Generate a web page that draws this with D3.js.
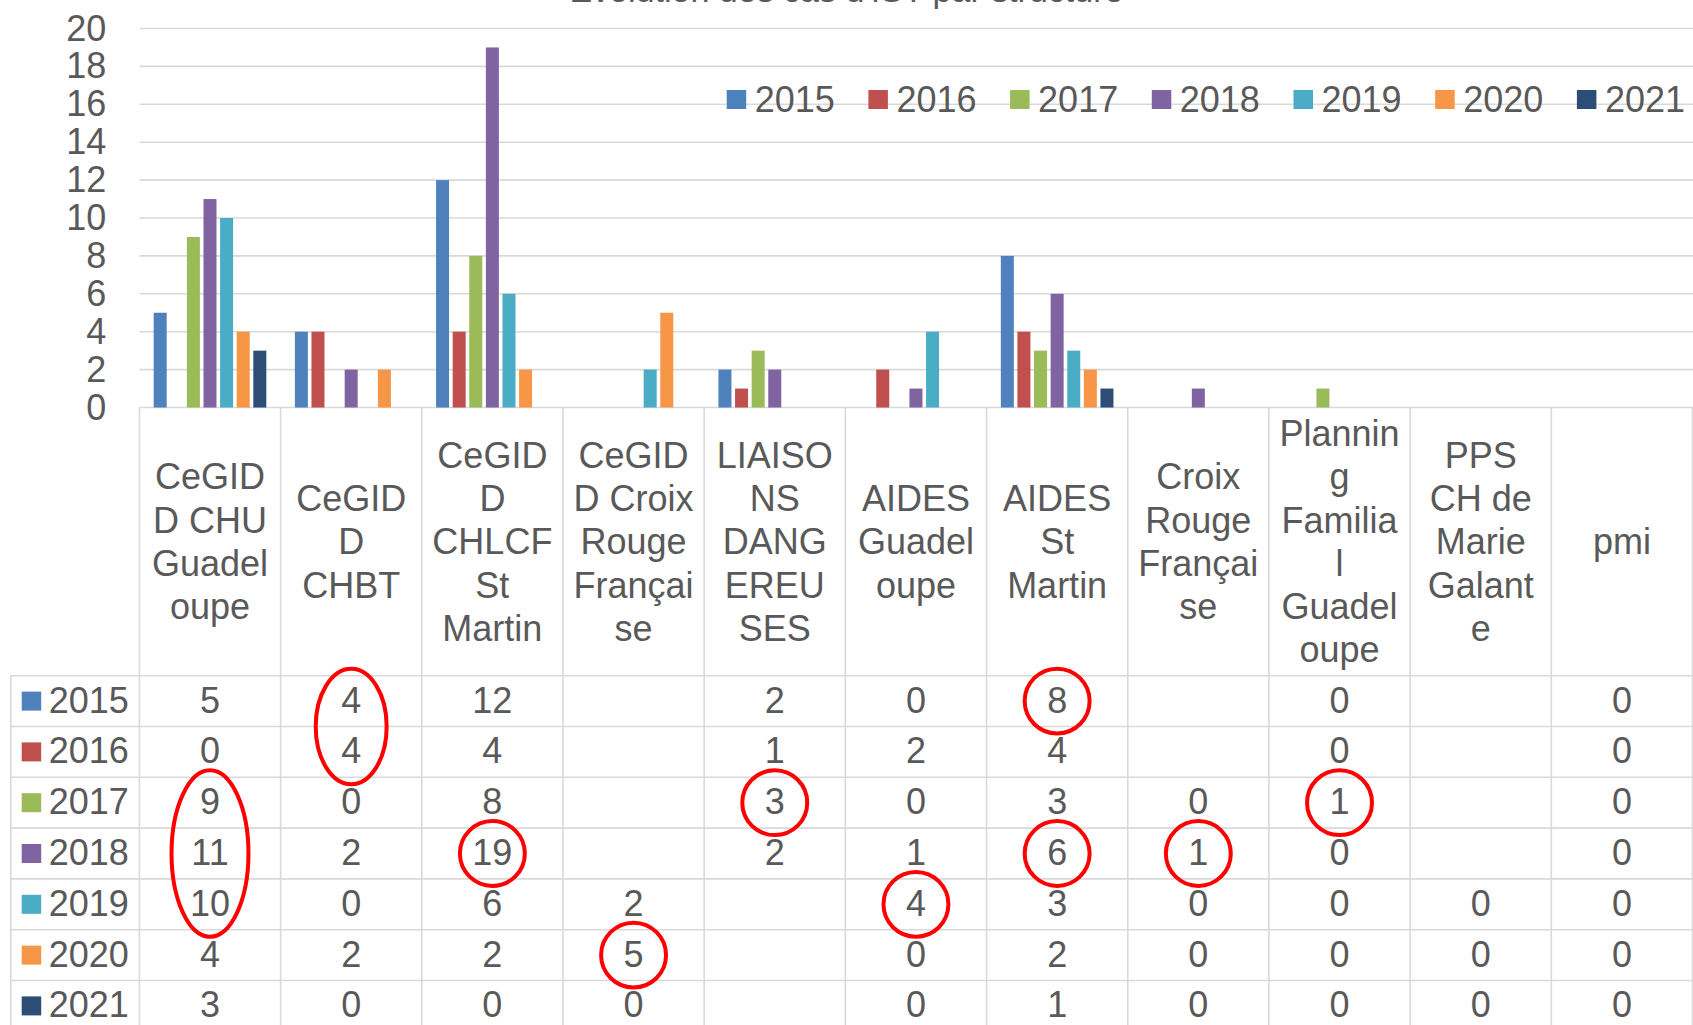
<!DOCTYPE html>
<html>
<head>
<meta charset="utf-8">
<script src="https://cdn.jsdelivr.net/npm/d3@7"></script>
<style>
  body { margin: 0; background: #fff; }
  svg { display: block; font-family: "Liberation Sans", Arial, sans-serif; }
</style>
</head>
<body>
<svg width="1693" height="1025"></svg>
<script>
// values (null = empty cell)
var years = ["2015", "2016", "2017", "2018", "2019", "2020", "2021"]
var categories = ["CeGIDD CHU Guadeloupe", "CeGIDD CHBT", "CeGIDD CHLCF St Martin",
    "CeGIDD Croix Rouge Française", "LIAISONS DANGEREUSES", "AIDES Guadeloupe",
    "AIDES St Martin", "Croix Rouge Française", "Planning Familial Guadeloupe",
    "PPS CH de Marie Galante", "pmi"]
// category labels as they wrap in the header cells
var categoryLines = [
    ["CeGID", "D CHU", "Guadel", "oupe"],
    ["CeGID", "D", "CHBT"],
    ["CeGID", "D", "CHLCF", "St", "Martin"],
    ["CeGID", "D Croix", "Rouge", "Françai", "se"],
    ["LIAISO", "NS", "DANG", "EREU", "SES"],
    ["AIDES", "Guadel", "oupe"],
    ["AIDES", "St", "Martin"],
    ["Croix", "Rouge", "Françai", "se"],
    ["Plannin", "g", "Familia", "l", "Guadel", "oupe"],
    ["PPS", "CH de", "Marie", "Galant", "e"],
    ["pmi"]
]
var v2015 = [5, 4, 12, null, 2, 0, 8, null, 0, null, 0]
var v2016 = [0, 4, 4, null, 1, 2, 4, null, 0, null, 0]
var v2017 = [9, 0, 8, null, 3, 0, 3, 0, 1, null, 0]
var v2018 = [11, 2, 19, null, 2, 1, 6, 1, 0, null, 0]
var v2019 = [10, 0, 6, 2, null, 4, 3, 0, 0, 0, 0]
var v2020 = [4, 2, 2, 5, null, 0, 2, 0, 0, 0, 0]
var v2021 = [3, 0, 0, 0, null, 0, 1, 0, 0, 0, 0]
var yTicks = [0, 2, 4, 6, 8, 10, 12, 14, 16, 18, 20]
var colors = ["#4F81BD", "#C0504D", "#9BBB59", "#8064A2", "#4BACC6", "#F79646", "#2C4D75"]
var title = "Evolution des cas d'IST par structure"

// hand drawn red rings on the table: category, first year, last year
var rings = [
    ["CeGIDD CHBT", "2015", "2016"],
    ["CeGIDD CHU Guadeloupe", "2017", "2019"],
    ["CeGIDD CHLCF St Martin", "2018", "2018"],
    ["LIAISONS DANGEREUSES", "2017", "2017"],
    ["CeGIDD Croix Rouge Française", "2020", "2020"],
    ["AIDES St Martin", "2015", "2015"],
    ["AIDES St Martin", "2018", "2018"],
    ["Croix Rouge Française", "2018", "2018"],
    ["Planning Familial Guadeloupe", "2017", "2017"],
    ["AIDES Guadeloupe", "2019", "2019"]
]

var series = [v2015, v2016, v2017, v2018, v2019, v2020, v2021]

function draw_chart() {
    var svg = d3.select("svg"),
        W = +svg.attr("width"),
        textColor = "#595959",
        gridColor = "#d9d9d9",
        fontSize = 36,
        plotLeft = 139.4,
        tableLeft = 10.8,
        headerTop = 407.5,
        rowsTop = 675.7,
        rowH = 50.8

    var x0 = d3.scaleBand().domain(categories).range([plotLeft, W - 0.5])
    var x1 = d3.scaleBand().domain(years).range([0, x0.bandwidth()])
        .paddingInner(0.217).paddingOuter(0.86)
    var y = d3.scaleLinear().domain([0, 20]).range([headerTop, 28.5])
    var row = d3.scaleBand().domain(years).range([rowsTop, rowsTop + rowH * years.length])
    var color = d3.scaleOrdinal().domain(years).range(colors)

    // title, cut off by the top edge like in the original
    svg.append("text")
        .attr("x", W / 2)
        .attr("y", 2)
        .attr("text-anchor", "middle")
        .attr("fill", textColor)
        .style("font-size", "34px")
        .text(title)

    // grid + value axis
    var yAxis = d3.axisLeft(y).tickValues(yTicks).tickSize(0).tickPadding(33)
    var ga = svg.append("g").attr("transform", "translate(" + plotLeft + ",0)").call(yAxis)
    ga.select(".domain").remove()
    ga.selectAll("text").attr("fill", textColor).style("font-size", fontSize + "px")
        .style("font-family", "Liberation Sans, Arial, sans-serif")

    svg.append("g").selectAll("line")
        .data(yTicks)
        .enter().append("line")
        .attr("x1", plotLeft).attr("x2", W)
        .attr("y1", function (d) { return y(d) }).attr("y2", function (d) { return y(d) })
        .attr("stroke", gridColor).attr("stroke-width", 1.6)

    // bars
    var groups = svg.append("g").selectAll("g")
        .data(categories)
        .enter().append("g")
        .attr("transform", function (c) { return "translate(" + x0(c) + ",0)" })
    groups.selectAll("rect")
        .data(function (c, i) {
            return years.map(function (yr, j) { return { year: yr, value: series[j][i] } })
                .filter(function (d) { return d.value != null && d.value > 0 })
        })
        .enter().append("rect")
        .attr("x", function (d) { return x1(d.year) })
        .attr("width", x1.bandwidth())
        .attr("y", function (d) { return y(d.value) })
        .attr("height", function (d) { return y(0) - y(d.value) })
        .attr("fill", function (d) { return color(d.year) })

    // top legend
    var legend = svg.append("g").attr("transform", "translate(726.7,0)")
    var li = legend.selectAll("g")
        .data(years)
        .enter().append("g")
        .attr("transform", function (d, i) { return "translate(" + (i * 141.7) + ",0)" })
    li.append("rect").attr("x", 0).attr("y", 90).attr("width", 19.5).attr("height", 19)
        .attr("fill", function (d) { return color(d) })
    li.append("text").attr("x", 28).attr("y", 99.5).attr("dy", "0.35em")
        .attr("fill", textColor).style("font-size", fontSize + "px")
        .text(function (d) { return d })

    // data table lines
    var bottom = 1025
    var tl = svg.append("g").attr("stroke", gridColor).attr("stroke-width", 1.6)
    var bounds = categories.map(function (c) { return x0(c) }).concat([x0.range()[1]])
    tl.selectAll(".v").data(bounds).enter().append("line")
        .attr("x1", function (d) { return d }).attr("x2", function (d) { return d })
        .attr("y1", headerTop).attr("y2", bottom)
    tl.append("line").attr("x1", tableLeft).attr("x2", tableLeft)
        .attr("y1", rowsTop).attr("y2", bottom)
    tl.selectAll(".h").data(years).enter().append("line")
        .attr("x1", tableLeft).attr("x2", W)
        .attr("y1", function (d) { return row(d) }).attr("y2", function (d) { return row(d) })

    // header labels
    var lineH = 43.3, headerMid = (headerTop + rowsTop) / 2
    categories.forEach(function (c, i) {
        var lines = categoryLines[i]
        var t = svg.append("text")
            .attr("text-anchor", "middle")
            .attr("fill", textColor)
            .style("font-size", fontSize + "px")
        lines.forEach(function (l, k) {
            t.append("tspan")
                .attr("x", x0(c) + x0.bandwidth() / 2)
                .attr("y", headerMid + (k - (lines.length - 1) / 2) * lineH)
                .attr("dy", "0.35em")
                .text(l)
        })
    })

    // row legend keys + values
    years.forEach(function (yr, j) {
        var cy = row(yr) + rowH / 2
        svg.append("rect").attr("x", 21.7).attr("y", cy - 9.5).attr("width", 19.5).attr("height", 19)
            .attr("fill", color(yr))
        svg.append("text").attr("x", 48.8).attr("y", cy).attr("dy", "0.32em")
            .attr("fill", textColor).style("font-size", fontSize + "px").text(yr)
        categories.forEach(function (c, i) {
            var v = series[j][i]
            if (v == null) return
            svg.append("text")
                .attr("x", x0(c) + x0.bandwidth() / 2)
                .attr("y", cy).attr("dy", "0.32em")
                .attr("text-anchor", "middle")
                .attr("fill", textColor).style("font-size", fontSize + "px")
                .text(v)
        })
    })

    // red rings
    svg.append("g").selectAll("ellipse")
        .data(rings)
        .enter().append("ellipse")
        .attr("cx", function (d) { return x0(d[0]) + x0.bandwidth() / 2 })
        .attr("cy", function (d) { return (row(d[1]) + row(d[2]) + rowH) / 2 })
        .attr("rx", function (d) {
            var span = years.indexOf(d[2]) - years.indexOf(d[1])
            return x0.bandwidth() * 0.23 + span * 3
        })
        .attr("ry", function (d) {
            var span = years.indexOf(d[2]) - years.indexOf(d[1]) + 1
            return span * rowH / 2 + 7
        })
        .attr("fill", "none")
        .attr("stroke", "#ff0000")
        .attr("stroke-width", 4)
}

draw_chart()
</script>
</body>
</html>
